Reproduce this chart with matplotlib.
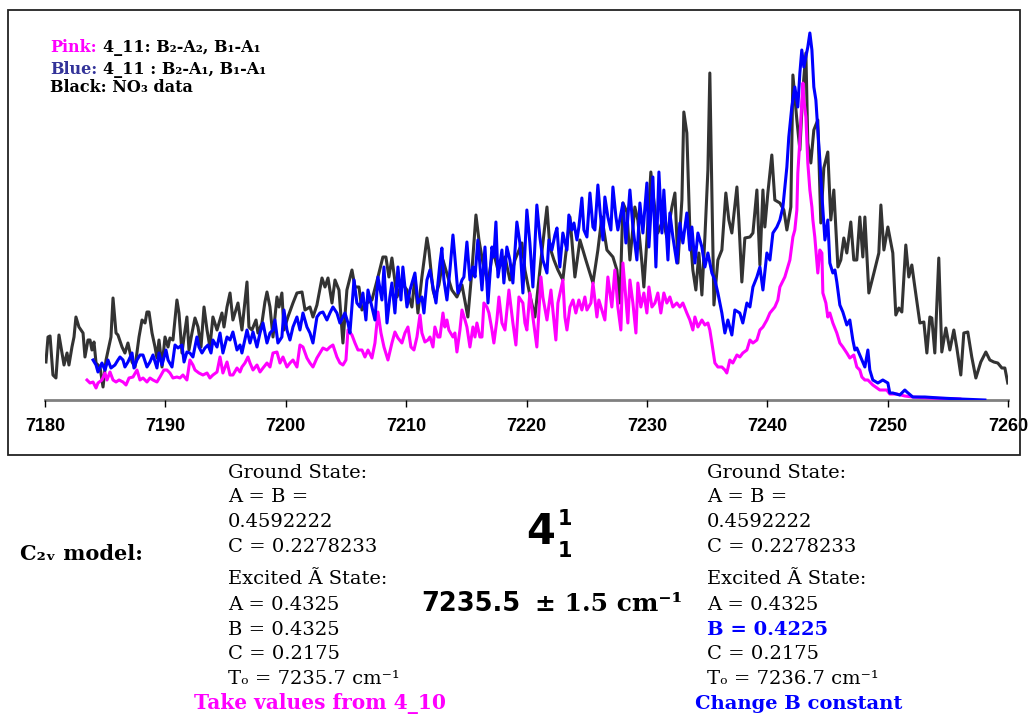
import matplotlib
matplotlib.use("Agg")
import matplotlib.pyplot as plt
from matplotlib.patches import Rectangle

plt.rcParams['font.family'] = ['DejaVu Serif', 'DejaVu Sans']

# NO3 spectrum (black): wavenumber / cm-1 and signal (arb. units)
no3_wn = [7180.08, 7180.25, 7180.42, 7180.66, 7180.91, 7181.16, 7181.41, 7181.58, 7181.83, 7181.99,
          7182.24, 7182.41, 7182.57, 7182.82, 7183.16, 7183.32, 7183.57, 7183.74, 7183.90, 7184.07,
          7184.24, 7184.57, 7184.82, 7185.07, 7185.48, 7185.65, 7185.90, 7186.06, 7186.40, 7186.64,
          7186.89, 7187.23, 7187.48, 7187.81, 7188.06, 7188.31, 7188.47, 7188.64, 7188.89, 7189.14,
          7189.30, 7189.47, 7189.72, 7189.97, 7190.22, 7190.38, 7190.63, 7190.96, 7191.13, 7191.38,
          7191.55, 7191.79, 7191.96, 7192.21, 7192.46, 7192.71, 7192.96, 7193.21, 7193.46, 7193.70,
          7193.95, 7194.29, 7194.70, 7194.87, 7195.12, 7195.37, 7195.61, 7196.03, 7196.36, 7196.78,
          7196.94, 7197.19, 7197.53, 7197.69, 7198.02, 7198.27, 7198.44, 7198.69, 7198.94, 7199.27,
          7199.44, 7199.68, 7199.85, 7200.18, 7200.60, 7200.93, 7201.35, 7201.60, 7202.01, 7202.26,
          7202.59, 7203.01, 7203.26, 7203.51, 7203.84, 7204.09, 7204.42, 7204.75, 7205.08, 7205.50,
          7205.75, 7206.08, 7206.33, 7206.74, 7207.16, 7207.66, 7208.07, 7208.32, 7208.57, 7208.82,
          7209.24, 7209.65, 7210.07, 7210.48, 7210.73, 7210.98, 7211.31, 7211.73, 7211.89, 7212.23,
          7212.39, 7212.72, 7213.06, 7213.47, 7213.80, 7214.22, 7214.64, 7215.13, 7215.47, 7215.80,
          7216.05, 7216.38, 7216.80, 7217.21, 7217.63, 7218.21, 7218.62, 7219.04, 7219.62, 7219.87,
          7220.28, 7220.70, 7221.20, 7221.70, 7221.94, 7222.28, 7222.61, 7223.02, 7223.61, 7224.02,
          7224.44, 7224.93, 7225.52, 7225.93, 7226.26, 7226.68, 7227.18, 7227.51, 7227.76, 7228.01,
          7228.34, 7228.59, 7229.00, 7229.25, 7229.59, 7229.75, 7230.00, 7230.33, 7230.50, 7230.91,
          7231.33, 7231.66, 7232.08, 7232.33, 7232.58, 7232.91, 7233.07, 7233.32, 7233.57, 7233.82,
          7234.07, 7234.32, 7234.57, 7234.82, 7235.07, 7235.23, 7235.40, 7235.57, 7235.90, 7236.23,
          7236.56, 7236.81, 7237.06, 7237.48, 7237.64, 7237.89, 7238.14, 7238.56, 7238.81, 7239.14,
          7239.39, 7239.64, 7239.80, 7240.05, 7240.38, 7240.63, 7241.05, 7241.38, 7241.63, 7241.96,
          7242.13, 7242.46, 7242.71, 7242.96, 7243.21, 7243.37, 7243.62, 7243.87, 7244.20, 7244.45,
          7244.70, 7245.03, 7245.28, 7245.53, 7245.87, 7246.11, 7246.36, 7246.61, 7246.94, 7247.19,
          7247.44, 7247.69, 7247.94, 7248.11, 7248.44, 7248.86, 7249.27, 7249.44, 7249.69, 7250.02,
          7250.43, 7250.68, 7250.93, 7251.18, 7251.51, 7251.76, 7252.01, 7252.26, 7252.68, 7253.01,
          7253.26, 7253.51, 7253.67, 7253.92, 7254.25, 7254.50, 7254.84, 7255.17, 7255.50, 7255.75,
          7256.08, 7256.33, 7256.66, 7256.99, 7257.33, 7257.74, 7258.16, 7258.49, 7258.82, 7259.15,
          7259.49, 7259.74, 7259.98]
no3_sig = [38, 63, 64, 25, 22, 65, 47, 35, 47, 35,
           53, 63, 83, 73, 67, 43, 60, 60, 50, 58,
           37, 33, 13, 40, 63, 102, 67, 65, 53, 47,
           57, 38, 33, 63, 80, 77, 88, 88, 67, 53,
           42, 60, 33, 63, 53, 62, 60, 100, 87, 47,
           63, 83, 50, 67, 82, 73, 53, 93, 70, 53,
           83, 70, 87, 73, 93, 107, 80, 97, 70, 118,
           73, 70, 80, 67, 77, 98, 108, 93, 63, 103,
           93, 107, 70, 83, 97, 107, 108, 90, 93, 83,
           95, 122, 113, 122, 97, 120, 110, 57, 110, 130,
           113, 113, 90, 97, 100, 123, 143, 143, 123, 142,
           103, 117, 110, 93, 123, 87, 123, 162, 150, 110,
           103, 115, 140, 123, 110, 103, 115, 83, 130, 185,
           160, 137, 117, 150, 130, 143, 120, 140, 157, 130,
           105, 83, 140, 193, 153, 140, 130, 120, 183, 123,
           160, 140, 117, 150, 183, 150, 143, 130, 97, 197,
           188, 140, 193, 180, 137, 113, 160, 228, 207, 167,
           180, 163, 193, 207, 137, 200, 288, 267, 170, 130,
           110, 147, 105, 163, 230, 327, 207, 95, 140, 150,
           207, 180, 167, 213, 180, 118, 162, 163, 167, 210,
           135, 210, 173, 207, 245, 200, 197, 190, 170, 193,
           325, 280, 250, 310, 347, 257, 237, 270, 280, 177,
           232, 248, 180, 210, 133, 140, 162, 147, 178, 140,
           140, 183, 143, 183, 107, 127, 147, 195, 150, 173,
           147, 85, 92, 88, 155, 123, 135, 113, 77, 78,
           47, 83, 82, 47, 142, 48, 72, 50, 70, 52,
           25, 67, 68, 43, 22, 38, 48, 40, 38, 37,
           32, 32, 17]

# 4_11 simulation, B2-A1 / B1-A1 (blue)
blue_wn = [7183.99, 7184.24, 7184.40, 7184.73, 7184.98, 7185.23, 7185.48, 7185.81, 7186.06, 7186.23,
           7186.48, 7186.64, 7186.89, 7187.23, 7187.39, 7187.64, 7187.89, 7188.14, 7188.47, 7188.72,
           7188.97, 7189.30, 7189.47, 7189.72, 7190.05, 7190.22, 7190.55, 7190.80, 7191.05, 7191.38,
           7191.55, 7191.79, 7192.04, 7192.29, 7192.62, 7192.79, 7193.04, 7193.29, 7193.54, 7193.79,
           7193.95, 7194.29, 7194.54, 7194.78, 7195.12, 7195.37, 7195.61, 7195.95, 7196.20, 7196.36,
           7196.78, 7197.03, 7197.28, 7197.61, 7197.86, 7198.11, 7198.44, 7198.69, 7198.94, 7199.10,
           7199.35, 7199.68, 7199.85, 7200.10, 7200.35, 7200.60, 7200.93, 7201.18, 7201.43, 7201.76,
           7202.01, 7202.26, 7202.59, 7202.84, 7203.09, 7203.42, 7203.67, 7203.92, 7204.25, 7204.50,
           7204.92, 7205.17, 7205.33, 7205.67, 7205.91, 7206.16, 7206.41, 7206.66, 7206.83, 7207.16,
           7207.41, 7207.66, 7207.99, 7208.16, 7208.41, 7208.65, 7208.82, 7209.07, 7209.32, 7209.57,
           7209.73, 7210.07, 7210.32, 7210.73, 7210.98, 7211.31, 7211.48, 7211.73, 7211.98, 7212.23,
           7212.48, 7212.81, 7212.97, 7213.14, 7213.39, 7213.64, 7213.89, 7214.05, 7214.30, 7214.64,
           7214.80, 7215.05, 7215.30, 7215.55, 7215.72, 7215.96, 7216.30, 7216.55, 7216.80, 7217.13,
           7217.29, 7217.46, 7217.63, 7217.96, 7218.12, 7218.37, 7218.62, 7218.87, 7219.20, 7219.45,
           7219.70, 7220.03, 7220.28, 7220.53, 7220.86, 7221.11, 7221.36, 7221.70, 7221.86, 7222.11,
           7222.36, 7222.53, 7222.77, 7223.02, 7223.36, 7223.52, 7223.77, 7223.94, 7224.19, 7224.35,
           7224.60, 7224.77, 7225.02, 7225.27, 7225.52, 7225.68, 7225.93, 7226.10, 7226.35, 7226.51,
           7226.76, 7227.01, 7227.18, 7227.43, 7227.59, 7228.01, 7228.26, 7228.59, 7228.84, 7229.17,
           7229.42, 7229.67, 7230.00, 7230.17, 7230.50, 7230.75, 7231.00, 7231.25, 7231.41, 7231.75,
           7231.91, 7232.16, 7232.49, 7232.74, 7232.99, 7233.32, 7233.57, 7233.74, 7233.99, 7234.24,
           7234.57, 7234.82, 7235.07, 7235.40, 7235.65, 7235.90, 7236.23, 7236.48, 7236.73, 7237.06,
           7237.31, 7237.72, 7237.97, 7238.31, 7238.56, 7238.81, 7239.14, 7239.39, 7239.64, 7239.97,
           7240.22, 7240.47, 7240.80, 7241.05, 7241.30, 7241.63, 7241.79, 7242.04, 7242.29, 7242.54,
           7242.71, 7242.87, 7243.04, 7243.37, 7243.54, 7243.71, 7243.87, 7244.04, 7244.20, 7244.37,
           7244.54, 7244.79, 7245.03, 7245.20, 7245.45, 7245.62, 7245.78, 7246.03, 7246.28, 7246.61,
           7246.86, 7247.11, 7247.28, 7247.44, 7247.69, 7247.86, 7248.11, 7248.36, 7248.52, 7248.77,
           7249.19, 7249.60, 7250.02, 7250.18, 7250.43, 7251.01, 7251.43, 7251.60, 7252.09, 7253.09,
           7254.34, 7256.00, 7258.08]
blue_sig = [40, 35, 28, 37, 30, 40, 32, 35, 40, 43,
            40, 33, 38, 47, 32, 40, 45, 45, 33, 38,
            45, 32, 47, 35, 50, 40, 33, 55, 52, 55,
            38, 48, 47, 43, 63, 53, 47, 52, 55, 47,
            60, 53, 67, 47, 63, 60, 68, 50, 55, 47,
            70, 57, 68, 53, 67, 77, 57, 67, 70, 80,
            57, 63, 90, 70, 60, 73, 83, 70, 87, 73,
            67, 57, 83, 87, 88, 80, 87, 93, 87, 77,
            87, 77, 67, 120, 97, 93, 107, 80, 110, 93,
            80, 123, 100, 133, 77, 103, 117, 87, 133, 100,
            133, 93, 110, 127, 97, 103, 87, 120, 130, 113,
            97, 137, 152, 120, 100, 130, 165, 143, 107, 120,
            123, 158, 120, 133, 123, 160, 110, 153, 97, 153,
            143, 178, 123, 150, 117, 153, 140, 117, 178, 157,
            107, 190, 157, 113, 195, 163, 140, 127, 160, 150,
            165, 172, 133, 167, 150, 185, 170, 177, 160, 173,
            202, 170, 163, 207, 173, 170, 215, 190, 160, 203,
            183, 170, 213, 183, 170, 197, 157, 210, 173, 140,
            197, 167, 217, 153, 223, 133, 228, 167, 210, 140,
            187, 163, 137, 177, 157, 187, 150, 173, 137, 167,
            153, 133, 147, 127, 120, 107, 87, 67, 80, 65,
            90, 87, 77, 97, 93, 113, 123, 133, 110, 147,
            140, 167, 173, 180, 193, 233, 263, 293, 313, 293,
            327, 350, 333, 353, 367, 350, 313, 300, 270, 240,
            205, 160, 180, 137, 127, 130, 118, 95, 88, 75,
            80, 60, 50, 52, 45, 40, 33, 50, 30, 20,
            17, 20, 17, 7, 7, 5, 10, 8, 3, 3,
            2, 1, 0]

# 4_11 simulation, B2-A2 / B1-A1 (pink)
pink_wn = [7183.49, 7183.74, 7183.99, 7184.24, 7184.40, 7184.73, 7184.98, 7185.15, 7185.40, 7185.65,
           7185.90, 7186.15, 7186.48, 7186.73, 7186.98, 7187.31, 7187.64, 7187.89, 7188.14, 7188.47,
           7188.72, 7188.97, 7189.30, 7189.55, 7189.88, 7190.13, 7190.38, 7190.63, 7190.96, 7191.21,
           7191.46, 7191.79, 7192.04, 7192.29, 7192.46, 7192.79, 7193.12, 7193.46, 7193.70, 7193.95,
           7194.29, 7194.54, 7194.78, 7195.12, 7195.37, 7195.61, 7195.95, 7196.20, 7196.36, 7196.61,
           7196.86, 7197.03, 7197.28, 7197.61, 7197.86, 7198.11, 7198.44, 7198.69, 7198.94, 7199.27,
           7199.52, 7199.77, 7200.10, 7200.35, 7200.60, 7200.93, 7201.18, 7201.43, 7201.76, 7202.01,
           7202.26, 7202.59, 7202.84, 7203.09, 7203.42, 7203.67, 7203.92, 7204.25, 7204.50, 7204.75,
           7205.00, 7205.17, 7205.50, 7205.75, 7206.00, 7206.33, 7206.58, 7206.83, 7207.16, 7207.41,
           7207.66, 7207.91, 7208.16, 7208.49, 7208.82, 7209.07, 7209.32, 7209.65, 7209.90, 7210.15,
           7210.40, 7210.65, 7210.90, 7211.15, 7211.31, 7211.56, 7211.81, 7211.98, 7212.23, 7212.39,
           7212.64, 7212.81, 7213.06, 7213.22, 7213.39, 7213.55, 7213.89, 7214.05, 7214.22, 7214.47,
           7214.64, 7214.89, 7215.05, 7215.30, 7215.55, 7215.72, 7215.88, 7216.13, 7216.30, 7216.46,
           7216.71, 7216.88, 7217.13, 7217.29, 7217.54, 7217.71, 7217.96, 7218.21, 7218.54, 7218.87,
           7219.12, 7219.37, 7219.70, 7219.87, 7220.03, 7220.28, 7220.53, 7220.86, 7221.20, 7221.36,
           7221.70, 7222.03, 7222.19, 7222.44, 7222.61, 7223.02, 7223.19, 7223.36, 7223.61, 7223.86,
           7224.10, 7224.35, 7224.60, 7224.85, 7225.02, 7225.35, 7225.52, 7225.85, 7226.01, 7226.26,
           7226.51, 7226.76, 7227.09, 7227.34, 7227.59, 7227.84, 7228.01, 7228.26, 7228.42, 7228.59,
           7228.84, 7229.09, 7229.25, 7229.50, 7229.75, 7230.00, 7230.17, 7230.42, 7230.67, 7230.91,
           7231.16, 7231.41, 7231.66, 7231.91, 7232.16, 7232.49, 7232.74, 7232.99, 7233.32, 7233.57,
           7233.82, 7233.99, 7234.24, 7234.57, 7234.82, 7235.07, 7235.23, 7235.40, 7235.65, 7235.90,
           7236.23, 7236.48, 7236.64, 7236.89, 7237.14, 7237.48, 7237.72, 7237.97, 7238.31, 7238.56,
           7238.81, 7239.14, 7239.39, 7239.64, 7239.97, 7240.22, 7240.63, 7240.88, 7241.05, 7241.21,
           7241.46, 7241.63, 7241.88, 7242.13, 7242.29, 7242.46, 7242.54, 7242.71, 7242.79, 7242.96,
           7243.04, 7243.21, 7243.37, 7243.54, 7243.71, 7243.79, 7243.95, 7244.20, 7244.37, 7244.54,
           7244.62, 7244.87, 7245.03, 7245.20, 7245.45, 7245.78, 7246.03, 7246.28, 7246.61, 7246.86,
           7247.19, 7247.44, 7247.69, 7247.86, 7248.11, 7248.36, 7248.77, 7249.35, 7249.93, 7250.18,
           7250.76, 7251.43, 7252.09, 7253.51, 7256.00]
pink_sig = [20, 17, 18, 12, 17, 20, 27, 20, 28, 20,
            18, 20, 18, 15, 22, 23, 30, 20, 22, 18,
            22, 20, 18, 23, 30, 30, 27, 22, 23, 22,
            25, 20, 40, 35, 30, 27, 25, 27, 22, 25,
            28, 43, 27, 38, 25, 25, 32, 28, 33, 37,
            43, 37, 30, 35, 28, 32, 37, 33, 47, 48,
            37, 43, 33, 37, 40, 33, 55, 53, 42, 37,
            33, 42, 47, 52, 50, 53, 55, 43, 37, 35,
            40, 70, 65, 57, 50, 50, 43, 50, 42, 57,
            88, 67, 53, 40, 57, 68, 62, 57, 67, 73,
            53, 50, 63, 85, 67, 58, 60, 63, 53, 73,
            63, 63, 87, 73, 80, 70, 63, 67, 48, 70,
            90, 80, 73, 53, 73, 63, 77, 63, 63, 97,
            93, 87, 70, 57, 80, 103, 77, 70, 110, 77,
            55, 103, 97, 77, 70, 107, 83, 53, 123, 103,
            80, 110, 90, 60, 97, 120, 83, 70, 93, 100,
            87, 100, 90, 103, 90, 97, 117, 83, 100, 90,
            80, 123, 93, 130, 93, 70, 137, 100, 77, 120,
            97, 67, 117, 93, 107, 87, 113, 93, 97, 107,
            87, 107, 97, 103, 93, 97, 93, 97, 87, 80,
            70, 83, 73, 80, 75, 77, 70, 57, 37, 33,
            33, 30, 27, 40, 37, 45, 43, 47, 50, 60,
            57, 60, 70, 73, 80, 87, 93, 100, 113, 117,
            123, 130, 140, 163, 170, 190, 227, 260, 280, 317,
            300, 283, 237, 210, 193, 180, 163, 127, 150, 147,
            107, 97, 83, 87, 77, 67, 57, 53, 47, 42,
            45, 33, 30, 23, 20, 20, 15, 10, 10, 6,
            6, 4, 3, 2, 1]

x_ticks = [7180, 7190, 7200, 7210, 7220, 7230, 7240, 7250, 7260]

W, H = 1032, 715
fig = plt.figure(figsize=(W / 100, H / 100), dpi=100)


def fxy(x, y):
    # pixel position (from top-left) -> figure fraction
    return x / W, 1 - y / H


ax = fig.add_axes([45 / W, (H - 400) / H, 963 / W, 380 / H])
ax.plot(no3_wn, no3_sig, color='#333333', lw=2.2, zorder=2)
ax.plot(pink_wn, pink_sig, color='#ff00ff', lw=2.2, zorder=3)
ax.plot(blue_wn, blue_sig, color='#0000ff', lw=2.2, zorder=4)

ax.set_xlim(7180, 7260)
ax.set_ylim(0, 380)
ax.set_yticks([])
for side in ['left', 'top', 'right']:
    ax.spines[side].set_visible(False)
ax.spines['bottom'].set_color('#808080')
ax.spines['bottom'].set_linewidth(2)
ax.spines['bottom'].set_zorder(1)
ax.set_xticks(x_ticks)
ax.tick_params(axis='x', direction='out', length=5, width=1, color='black', pad=8)
for lab in ax.get_xticklabels():
    lab.set_fontfamily(['Liberation Sans', 'DejaVu Sans'])
    lab.set_fontweight('bold')
    lab.set_fontsize(13)
ax.patch.set_visible(False)

# outer frame around the spectrum
fig.patches.append(Rectangle(fxy(8, 455), 1012 / W, 445 / H, transform=fig.transFigure,
                             fill=False, edgecolor='#222222', lw=1.3, zorder=0))

# key in the upper left corner
lk = dict(fontsize=11.5, fontweight='bold', va='center', ha='left')
fig.text(*fxy(50, 48), 'Pink:', color='#ff00ff', **lk)
fig.text(*fxy(103, 48), '4_11: B\u2082-A\u2082, B\u2081-A\u2081', color='black', **lk)
fig.text(*fxy(50, 69), 'Blue:', color='#333399', **lk)
fig.text(*fxy(103, 69), '4_11 : B\u2082-A\u2081, B\u2081-A\u2081', color='black', **lk)
fig.text(*fxy(50, 88), 'Black: NO\u2083 data', color='black', **lk)

# model constants below the plot
fig.text(*fxy(20, 554), 'C\u2082\u1d65 model:', fontsize=15, fontweight='bold', va='center')

body = dict(fontsize=14, va='center', ha='left', color='black')
rows_y = [473, 497, 522, 547, 579, 605, 630, 654, 679]
left_rows = ['Ground State:', 'A = B =', '0.4592222', 'C = 0.2278233', 'Excited \u00c3 State:',
             'A = 0.4325', 'B = 0.4325', 'C = 0.2175', 'T\u2092 = 7235.7 cm\u207b\u00b9']
right_rows = ['Ground State:', 'A = B =', '0.4592222', 'C = 0.2278233', 'Excited \u00c3 State:',
              'A = 0.4325', 'B = 0.4225', 'C = 0.2175', 'T\u2092 = 7236.7 cm\u207b\u00b9']
for yy, s in zip(rows_y, left_rows):
    fig.text(*fxy(228, yy), s, **body)
for yy, s in zip(rows_y, right_rows):
    if s.startswith('B = 0.4225'):
        fig.text(*fxy(707, yy), s, fontsize=14, fontweight='bold', color='#0000ff',
                 va='center', ha='left')
    else:
        fig.text(*fxy(707, yy), s, **body)

fig.text(*fxy(320, 704), 'Take values from 4_10', fontsize=14.5, fontweight='bold',
         color='#ff00ff', ha='center', va='center')
fig.text(*fxy(799, 704), 'Change B constant', fontsize=14, fontweight='bold',
         color='#0000ff', ha='center', va='center')

# band label and origin
fig.text(*fxy(541, 532), '4', fontsize=30, fontweight='bold', family='DejaVu Sans',
         ha='center', va='center')
fig.text(*fxy(565, 519), '1', fontsize=15, fontweight='bold', family='DejaVu Sans',
         ha='center', va='center')
fig.text(*fxy(565, 551), '1', fontsize=15, fontweight='bold', family='DejaVu Sans',
         ha='center', va='center')
fig.text(*fxy(520, 604), '7235.5', fontsize=18.5, fontweight='bold', family='DejaVu Sans',
         ha='right', va='center')
fig.text(*fxy(535, 604), '\u00b1 1.5 cm\u207b\u00b9', fontsize=18, fontweight='bold',
         ha='left', va='center')

fig.savefig('out.png', dpi=100)
